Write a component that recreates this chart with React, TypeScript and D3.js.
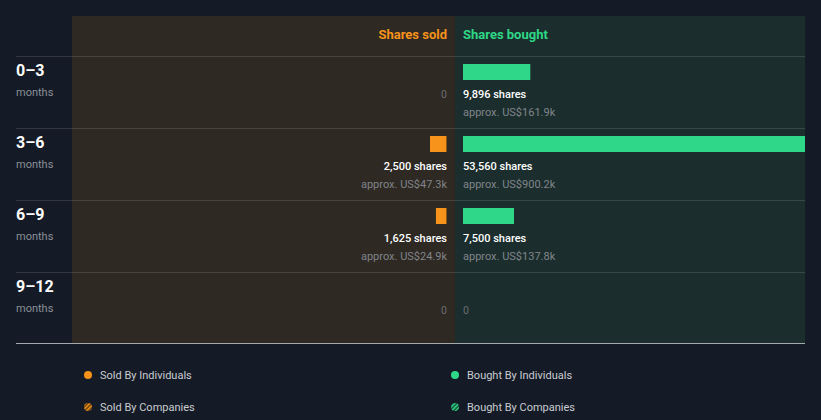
import React from "react";
import * as d3 from "d3";

const periods = ["0–3", "3–6", "6–9", "9–12"];
const soldShares = [0, 2500, 1625, 0];
const soldValue = ["", "approx. US$47.3k", "approx. US$24.9k", ""];
const boughtShares = [9896, 53560, 7500, 0];
const boughtValue = ["approx. US$161.9k", "approx. US$900.2k", "approx. US$137.8k", ""];
const legendItems = ["Sold By Individuals", "Sold By Companies", "Bought By Individuals", "Bought By Companies"];

const W = 821, H = 420;
const ORANGE = "#f7931a";
const GREEN = "#2ed888";
const FONT = "Roboto, 'Noto Sans', sans-serif";

export default function App() {
  const top = 16, headerH = 40, rowH = 72;
  const leftPanelX = 72, midX = 455, rightX = 805;
  const y = d3.scaleBand<number>().domain(d3.range(periods.length)).range([top + headerH, top + headerH + rowH * periods.length]);
  const w = d3.scaleLinear().domain([0, 50000]).range([0, 340]);
  const fmt = d3.format(",");
  const sepYs = d3.range(periods.length).map((i) => y(i)!);
  const bottomY = top + headerH + rowH * periods.length - 1;

  return (
    <svg width={W} height={H} style={{ position: "absolute", left: 0, top: 0, background: "#151b26", fontFamily: FONT }}>
      <defs>
        <pattern id="hatchO" width="3" height="3" patternUnits="userSpaceOnUse" patternTransform="rotate(45)">
          <rect width="3" height="3" fill="#5a3a10" />
          <rect width="1.5" height="3" fill={ORANGE} />
        </pattern>
        <pattern id="hatchG" width="3" height="3" patternUnits="userSpaceOnUse" patternTransform="rotate(45)">
          <rect width="3" height="3" fill="#124a35" />
          <rect width="1.5" height="3" fill={GREEN} />
        </pattern>
        <clipPath id="clipR">
          <rect x={midX} y={top} width={rightX - midX} height={bottomY - top} />
        </clipPath>
      </defs>
      <rect x={0} y={0} width={W} height={H} fill="#151b26" />
      <rect x={leftPanelX} y={top} width={midX - leftPanelX} height={bottomY - top} fill="#2e2923" />
      <rect x={midX} y={top} width={rightX - midX} height={bottomY - top} fill="#1b2e2d" />

      <text x={447} y={39} textAnchor="end" fill={ORANGE} fontSize={13} fontWeight={700}>Shares sold</text>
      <text x={463} y={39} fill={GREEN} fontSize={13} fontWeight={700}>Shares bought</text>

      {sepYs.map((sy, i) => (
        <line key={i} x1={16} x2={rightX} y1={sy + 0.5} y2={sy + 0.5} stroke="#ffffff" strokeOpacity={0.12} />
      ))}
      <line x1={16} x2={rightX} y1={bottomY + 0.5} y2={bottomY + 0.5} stroke="#c8ccd2" strokeOpacity={0.8} />

      {periods.map((p, i) => {
        const ry = y(i)!;
        const sw = w(soldShares[i]);
        const bw = w(boughtShares[i]);
        return (
          <g key={p}>
            <text x={16} y={ry + 20} fill="#ffffff" fontSize={16} fontWeight={700}>{p}</text>
            <text x={16} y={ry + 40} fill="#8a8f98" fontSize={11}>months</text>

            {soldShares[i] > 0 ? (
              <g>
                <rect x={447 - sw} y={ry + 8} width={sw} height={16} fill={ORANGE} />
                <rect x={446} y={ry + 8} width={1} height={16} fill="#8a5510" />
                <text x={447} y={ry + 42} textAnchor="end" fill="#ffffff" fontSize={11} fontWeight={500}>{fmt(soldShares[i])} shares</text>
                <text x={447} y={ry + 60} textAnchor="end" fill="#80848a" fontSize={11}>{soldValue[i]}</text>
              </g>
            ) : (
              <text x={447} y={ry + 42} textAnchor="end" fill="#6a6c70" fontSize={10.5}>0</text>
            )}

            {boughtShares[i] > 0 ? (
              <g>
                <rect x={463} y={ry + 8} width={bw} height={16} fill={GREEN} clipPath="url(#clipR)" />
                <text x={463} y={ry + 42} fill="#ffffff" fontSize={11} fontWeight={500}>{fmt(boughtShares[i])} shares</text>
                <text x={463} y={ry + 60} fill="#80848a" fontSize={11}>{boughtValue[i]}</text>
              </g>
            ) : (
              <text x={463} y={ry + 42} fill="#6a6c70" fontSize={10.5}>0</text>
            )}
          </g>
        );
      })}

      {legendItems.map((t, i) => {
        const col = i < 2 ? 0 : 1;
        const row = i % 2;
        const cx = col === 0 ? 88 : 455;
        const cy = 375 + row * 32;
        const fill = i === 0 ? ORANGE : i === 2 ? GREEN : i === 1 ? "url(#hatchO)" : "url(#hatchG)";
        return (
          <g key={t}>
            <circle cx={cx} cy={cy} r={4} fill={fill} />
            <text x={cx + 12} y={cy + 4} fill="#c9ccd1" fontSize={11}>{t}</text>
          </g>
        );
      })}
    </svg>
  );
}
